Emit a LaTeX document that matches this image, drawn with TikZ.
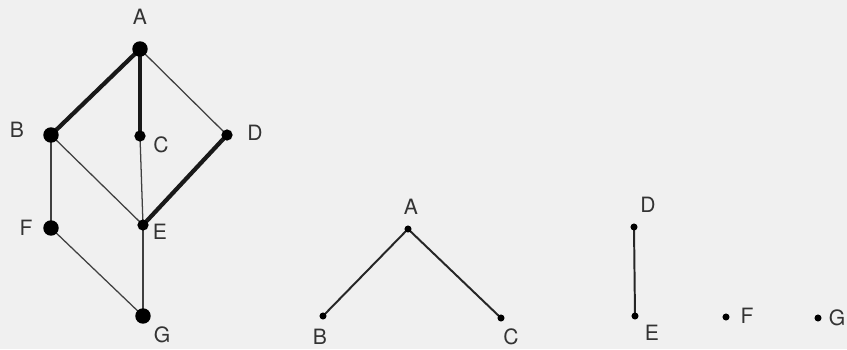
\documentclass[tikz,border=0pt]{standalone}
\usepackage{fontspec}
\setmainfont{TeX Gyre Heros}
\tikzset{
    dotbig/.style={circle, fill=black, inner sep=0pt, minimum size=11pt},
    dotmid/.style={circle, fill=black, inner sep=0pt, minimum size=8pt},
    dotsmall/.style={circle, fill=black, inner sep=0pt, minimum size=5pt},
    lbl/.style={font=\fontsize{15}{17}\selectfont, text=black!80},
    thinedge/.style={line width=0.9pt, black!75},
    boldedge/.style={line width=3pt, black!90},
    midedge/.style={line width=1.4pt, black!85}
}
\begin{document}
\begin{tikzpicture}[x=0.025cm, y=-0.025cm]
    \fill[black!6] (0,0) rectangle (847,349);
    \useasboundingbox (0,0) rectangle (847,349);

    % left lattice
    \coordinate (A) at (140,49);
    \coordinate (B) at (51,135);
    \coordinate (C) at (140,136);
    \coordinate (D) at (227,135);
    \coordinate (E) at (143,225);
    \coordinate (F) at (51,228);
    \coordinate (G) at (143,316);

    \draw[thinedge] (A) -- (D);
    \draw[thinedge] (B) -- (E);
    \draw[thinedge] (C) -- (E);
    \draw[thinedge] (B) -- (F);
    \draw[thinedge] (F) -- (G);
    \draw[thinedge] (E) -- (G);
    \draw[boldedge] (A) -- (B);
    \draw[boldedge] (A) -- (C);
    \draw[boldedge] (D) -- (E);

    \node[dotbig] at (A) {};
    \node[dotbig] at (B) {};
    \node[dotmid] at (C) {};
    \node[dotmid] at (D) {};
    \node[dotmid] at (E) {};
    \node[dotbig] at (F) {};
    \node[dotbig] at (G) {};

    \node[lbl] (lA) at (140,17) {A};
    \node[lbl] (lB) at (17,130) {B};
    \node[lbl] (lC) at (161,145) {C};
    \node[lbl] (lD) at (255,133) {D};
    \node[lbl] (lE) at (160,232) {E};
    \node[lbl] (lF) at (26,228) {F};
    \node[lbl] (lG) at (162,335) {G};

    % tree A, B, C
    \coordinate (A2) at (408,229);
    \coordinate (B2) at (323,316);
    \coordinate (C2) at (501,318);

    \draw[midedge] (A2) -- (B2);
    \draw[midedge] (A2) -- (C2);
    \node[dotsmall] at (A2) {};
    \node[dotsmall] at (B2) {};
    \node[dotsmall] at (C2) {};

    \node[lbl] (lA2) at (411,207) {A};
    \node[lbl] (lB2) at (320,337) {B};
    \node[lbl] (lC2) at (511,337) {C};

    % chain D, E and single points F, G
    \coordinate (D2) at (634,227);
    \coordinate (E2) at (635,316);
    \coordinate (F2) at (726,317);
    \coordinate (G2) at (818,318);

    \draw[midedge] (D2) -- (E2);
    \node[dotsmall] at (D2) {};
    \node[dotsmall] at (E2) {};
    \node[dotsmall] at (F2) {};
    \node[dotsmall] at (G2) {};

    \node[lbl] (lD2) at (648,205) {D};
    \node[lbl] (lE2) at (652,333) {E};
    \node[lbl] (lF2) at (747,316) {F};
    \node[lbl] (lG2) at (837,318) {G};
\end{tikzpicture}
\end{document}
